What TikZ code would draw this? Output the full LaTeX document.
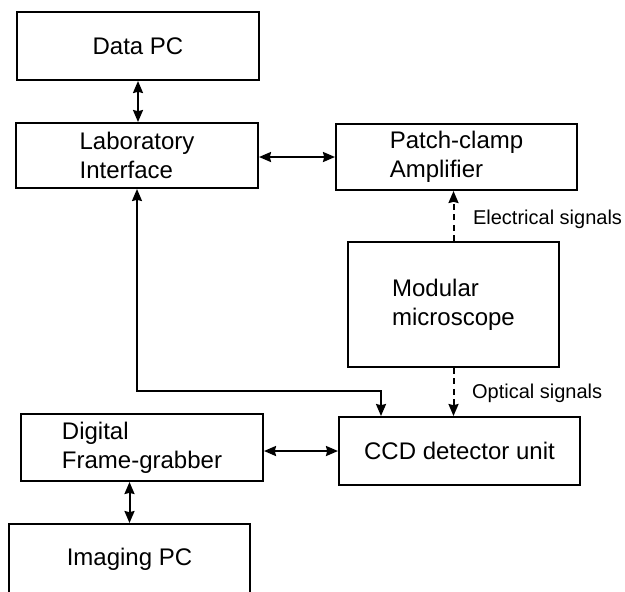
\documentclass[tikz,border=0pt]{standalone}
\usepackage{fontspec}
\setmainfont{Liberation Sans}
\usetikzlibrary{arrows.meta,positioning}

\begin{document}
\begin{tikzpicture}[
    x=0.5pt, y=-0.5pt,
    unit/.style={draw, line width=1pt, inner sep=2pt, font=\fontsize{12}{14.5}\selectfont, align=left},
    link/.style={<->, line width=1pt, >={Stealth[length=6pt,width=5pt,inset=0.6pt]}},
    signal/.style={->, line width=1pt, dash pattern=on 3pt off 2.2pt, >={Stealth[length=6pt,width=5pt,inset=0.6pt]}},
    sig/.style={font=\fontsize{10}{12}\selectfont, anchor=west}
]
\useasboundingbox (0,0) rectangle (625,591);
\clip (0,0) rectangle (625,591);

% blocks
\node[unit, minimum width=121pt, minimum height=34pt] (data) at (138,46) {Data PC};
\node[unit, minimum width=121pt, minimum height=32.5pt] (lab) at (137,155.5) {Laboratory\\Interface};
\node[unit, minimum width=120.5pt, minimum height=33pt] (amp) at (456.5,157) {Patch-clamp\\Amplifier};
\node[unit, minimum width=105.5pt, minimum height=62.5pt] (scope) at (453.5,304.5) {Modular\\microscope};
\node[unit, minimum width=121pt, minimum height=33.5pt] (grabber) at (142,447.5) {Digital\\Frame-grabber};
\node[unit, minimum width=120.5pt, minimum height=34pt] (ccd) at (459.5,451) {CCD detector unit};
\node[unit, minimum width=120.5pt, minimum height=35pt] (imaging) at (129.5,559) {Imaging PC};

% connections
\draw[link] (data.south) -- (data.south |- lab.north);
\draw[link] (lab.east |- amp.west) -- (amp.west);
\draw[signal] (scope.north) -- (scope.north |- amp.south);
\draw[signal] (scope.south) -- (scope.south |- ccd.north);
\draw[link] (grabber.east |- ccd.west) -- (ccd.west);
\draw[link] (grabber.south -| imaging.north) -- (imaging.north);

\coordinate (turn) at (381,391);
\draw[link] (lab.south) |- (turn) -- (turn |- ccd.north);

% signal labels
\node[sig] (elec) at (466,219) {Electrical signals};
\node[sig] (opt) at (465,393) {Optical signals};
\end{tikzpicture}
\end{document}
